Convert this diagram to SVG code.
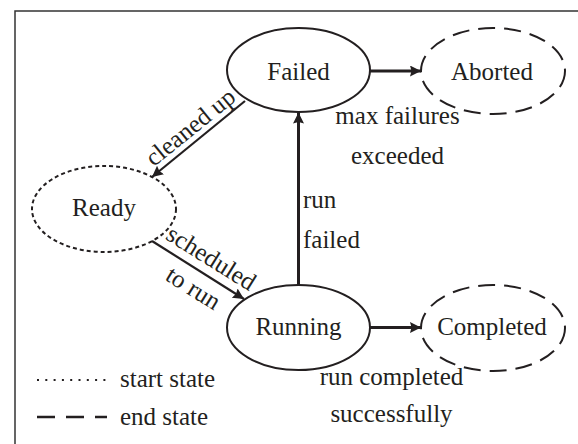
<svg xmlns="http://www.w3.org/2000/svg" width="578" height="444" viewBox="0 0 578 444">
<style>
  .txt { font-family: "Liberation Serif", "Times New Roman", serif; font-size: 25px; fill: #231f20; }
  .mid { text-anchor: middle; }
  .node { fill: none; stroke: #231f20; stroke-width: 2; }
  .start { stroke-dasharray: 4 3; }
  .end { stroke-dasharray: 17 9; }
  .edge { fill: none; stroke: #231f20; stroke-width: 3; marker-end: url(#arrow); }
  .diag { stroke-width: 2.2; }
</style>
<defs>
  <marker id="arrow" markerUnits="userSpaceOnUse" markerWidth="12" markerHeight="12" refX="11" refY="5.5" orient="auto">
    <path d="M0,0 L11,5.5 L0,11 L1.5,5.5 z" fill="#231f20"/>
  </marker>
</defs>
<rect width="578" height="444" fill="#ffffff"/>
<path d="M15,444 V11 H578" fill="none" stroke="#333333" stroke-width="1.5"/>

<g id="failed">
  <ellipse class="node" cx="298.5" cy="70" rx="71.5" ry="42"/>
  <text class="txt mid" x="298.5" y="80">Failed</text>
</g>
<g id="aborted">
  <ellipse class="node end" cx="493" cy="71" rx="72" ry="43"/>
  <text class="txt mid" x="492" y="80">Aborted</text>
</g>
<g id="ready">
  <ellipse class="node start" cx="104" cy="209" rx="72" ry="43"/>
  <text class="txt mid" x="104" y="216">Ready</text>
</g>
<g id="running">
  <ellipse class="node" cx="298.5" cy="327.5" rx="71.5" ry="42.5"/>
  <text class="txt mid" x="298.5" y="335">Running</text>
</g>
<g id="completed">
  <ellipse class="node end" cx="493" cy="328" rx="72" ry="43"/>
  <text class="txt mid" x="492" y="335">Completed</text>
</g>

<g id="connectors">
  <line class="edge" x1="370" y1="71" x2="421" y2="71"/>
  <line class="edge" x1="370" y1="327.5" x2="421" y2="327.5"/>
  <line class="edge" x1="298.5" y1="285" x2="298.5" y2="112.5"/>
  <line class="edge diag" x1="245" y1="101" x2="152" y2="177"/>
  <line class="edge diag" x1="152" y1="241" x2="244" y2="299"/>

  <text class="txt" transform="translate(195.5,133.5) rotate(-39)" text-anchor="middle">cleaned up</text>
  <text class="txt" transform="translate(207,265) rotate(32)" text-anchor="middle">scheduled</text>
  <text class="txt" transform="translate(189,295) rotate(32)" text-anchor="middle">to run</text>
  <text class="txt mid" x="397.5" y="124">max failures</text>
  <text class="txt mid" x="397.5" y="164">exceeded</text>
  <text class="txt" x="303" y="208">run</text>
  <text class="txt" x="303" y="248">failed</text>
  <text class="txt mid" x="391.5" y="385">run completed</text>
  <text class="txt mid" x="391.5" y="422">successfully</text>
</g>

<g id="legend">
  <line x1="37" y1="380" x2="107" y2="380" stroke="#231f20" stroke-width="2" stroke-dasharray="2 6.3"/>
  <text class="txt" x="120" y="387">start state</text>
  <line x1="37" y1="417" x2="107" y2="417" stroke="#231f20" stroke-width="2.5" stroke-dasharray="18 11"/>
  <text class="txt" x="120" y="425">end state</text>
</g>
</svg>
